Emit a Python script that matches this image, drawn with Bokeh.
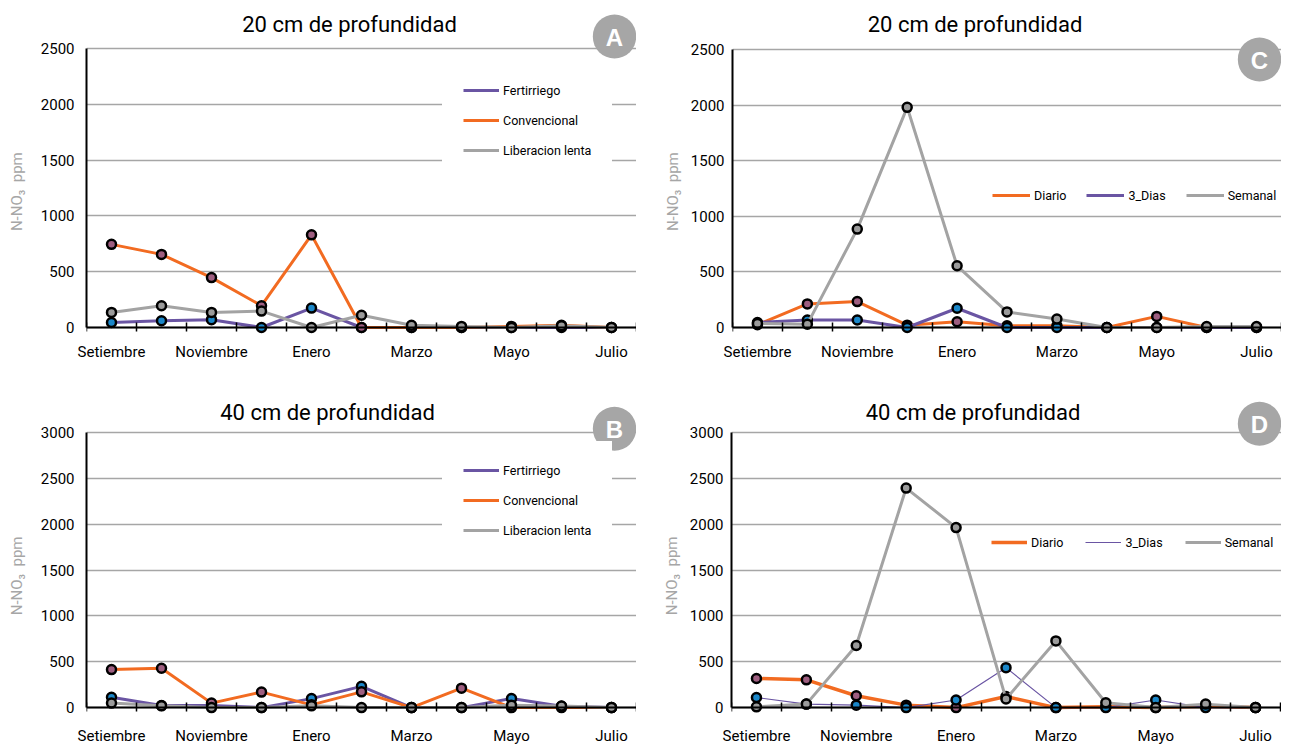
from bokeh.plotting import figure
from bokeh.models import (Range1d, FixedTicker, Label, Legend, LegendItem,
                          ColumnDataSource, LinearAxis)
from bokeh.layouts import column, row
from bokeh.embed import file_html
from bokeh.resources import INLINE

# ---------------- data ----------------
months = ["Setiembre", "Octubre", "Noviembre", "Diciembre", "Enero", "Febrero",
          "Marzo", "Abril", "Mayo", "Junio", "Julio"]
shown_months = ["Setiembre", "Noviembre", "Enero", "Marzo", "Mayo", "Julio"]

yticks_20 = [0, 500, 1000, 1500, 2000, 2500]
yticks_40 = [0, 500, 1000, 1500, 2000, 2500, 3000]

# A: 20 cm, fuente de fertilizante
a_fertirriego = [45, 60, 70, 0, 174, 0, 0, 0, 0, 0, 0]
a_convencional = [745, 655, 447, 195, 830, 0, 0, 0, 10, 20, 0]
a_liberacion = [135, 195, 135, 147, 0, 110, 20, 10, 0, 15, 0]

# B: 40 cm, fuente de fertilizante
b_fertirriego = [113, 23, 23, 0, 98, 232, 0, 0, 99, 15, 0]
b_convencional = [415, 430, 49, 169, 30, 172, 0, 212, 0, 0, 0]
b_liberacion = [49, 19, 0, 0, 19, 0, 0, 0, 26, 18, 0]

# C: 20 cm, frecuencia
c_diario = [25, 212, 233, 21, 52, 15, 15, 0, 100, 0, 0]
c_3dias = [45, 67, 67, 0, 173, 0, 0, 0, 0, 0, 0]
c_semanal = [36, 30, 885, 1980, 555, 140, 76, 0, 0, 9, 9]

# D: 40 cm, frecuencia
d_diario = [318, 303, 129, 27, 0, 121, 0, 8, 0, 15, 0]
d_3dias = [110, 38, 27, 0, 83, 436, 0, 0, 83, 0, 0]
d_semanal = [8, 38, 678, 2396, 1965, 95, 728, 53, 0, 38, 0]

# ---------------- style ----------------
ORANGE = "#f26b21"
PURPLE = "#6a55a3"
GREY = "#a3a3a3"
MAUVE = "#9e5e80"
BLUE = "#1b87c9"
GREYFILL = "#9b9b9b"
GRID = "#a6a6a6"
FONT = "Roboto"
NB = "\u00a0"


def panel(title, letter, yticks, series, g):
    ymax = yticks[-1]
    n = len(months)
    # layout geometry (pixels) -> ranges
    y0 = -ymax * g["under_px"] / g["plot_px"]
    y1 = ymax * (1 + g["top_px"] / g["plot_px"])
    unit = g["xplot_px"] / n
    x1 = n - 0.5 + g["xright_px"] / unit
    p = figure(width=g["w"], height=g["h"],
               x_range=Range1d(-0.5, x1), y_range=Range1d(y0, y1),
               output_backend="svg", toolbar_location=None,
               min_border_left=g["l"], min_border_right=0,
               min_border_top=0, min_border_bottom=g["b"])
    p.outline_line_color = None
    p.background_fill_color = "white"
    p.border_fill_color = "white"
    p.xgrid.visible = False

    # y axis
    p.yaxis.ticker = FixedTicker(ticks=yticks)
    p.yaxis.bounds = (0, ymax)
    p.yaxis.axis_line_color = "black"
    p.yaxis.axis_line_width = 2
    p.yaxis.major_tick_in = 0
    p.yaxis.major_tick_out = 0
    p.yaxis.minor_tick_line_color = None
    p.yaxis.major_label_text_font = FONT
    p.yaxis.major_label_text_font_size = "15px"
    p.yaxis.major_label_text_color = "black"
    p.yaxis.major_label_standoff = g["ystand"]
    p.yaxis.axis_label = "N-NO\u2083" + NB + NB + "ppm" + NB * g["nbsp"]
    p.yaxis.axis_label_text_font = FONT
    p.yaxis.axis_label_text_font_size = "15px"
    p.yaxis.axis_label_text_font_style = "normal"
    p.yaxis.axis_label_text_color = GRID
    p.yaxis.axis_label_standoff = g["lstand"]

    p.ygrid.ticker = FixedTicker(ticks=yticks)
    p.ygrid.bounds = (0, ymax)
    p.ygrid.grid_line_color = GRID
    p.ygrid.grid_line_width = 1.5

    idx = list(range(n))
    # x axis labels (below the frame)
    p.xaxis.ticker = FixedTicker(ticks=idx[::2])
    p.xaxis.major_label_overrides = {i: m for i, m in zip(idx[::2], shown_months)}
    p.xaxis.axis_line_color = None
    p.xaxis.major_tick_line_color = None
    p.xaxis.minor_tick_line_color = None
    p.xaxis.major_label_text_font = FONT
    p.xaxis.major_label_text_font_size = "15px"
    p.xaxis.major_label_text_color = "black"
    p.xaxis.major_label_standoff = g["xstand"]

    # x axis line with category ticks, drawn at y = 0
    ax0 = LinearAxis(fixed_location=0, bounds=(-0.5, n - 0.5),
                     ticker=FixedTicker(ticks=[], minor_ticks=[i - 0.5 for i in range(n + 1)]),
                     axis_line_color="black", axis_line_width=2,
                     major_tick_line_color=None, major_label_text_font_size="0px",
                     major_label_standoff=0,
                     minor_tick_line_color="black", minor_tick_line_width=1.5,
                     minor_tick_in=5, minor_tick_out=4)
    p.add_layout(ax0, "below")

    items = []
    for name, vals, lc, lw, fc in series:
        src = ColumnDataSource(dict(x=idx, y=vals))
        lr = p.line("x", "y", source=src, line_color=lc, line_width=lw, line_join="round")
        p.scatter("x", "y", source=src, size=9, fill_color=fc,
                  line_color="black", line_width=2.5)
        dummy = p.scatter("x", "y", source=ColumnDataSource(dict(x=[], y=[])),
                          size=9, fill_color=fc, line_color="black", line_width=3.5)
        items.append(LegendItem(label=name, renderers=[lr, dummy]))

    leg = Legend(items=items, location=g["loc"], orientation=g["orient"],
                 padding=g["pad"], spacing=g["spacing"], margin=0,
                 glyph_width=g["gw"], glyph_height=16, label_height=16,
                 label_standoff=4, label_text_font=FONT, label_text_font_size="12.5px",
                 label_text_color="black",
                 background_fill_color="white", background_fill_alpha=g["bga"],
                 border_line_color=g["border"], border_line_width=1)
    p.add_layout(leg)

    p.add_layout(Label(x=(n - 1) / 2, y=ymax, x_offset=g["tx"], y_offset=g["ty"],
                       text=title, text_align="center", text_baseline="middle",
                       text_font=FONT, text_font_size="22px", text_color="black"))
    p.add_layout(Label(x=n - 0.5, y=ymax, x_offset=g["bx"], y_offset=g["by"],
                       text=letter, text_align="center", text_baseline="middle",
                       text_font="Liberation Sans", text_font_style="bold",
                       text_font_size="24px", text_color="white",
                       background_fill_color="#a6a6a6", border_radius=22,
                       padding=dict(left=13, right=13, top=9, bottom=8)))
    return p


# rows: top 0..381, bottom 381..747 ; columns: left 0..636, right 636..1281
gA = dict(w=636, h=381, l=86, top_px=48, plot_px=279, under_px=7, b=47, xstand=2,
          xplot_px=550, xright_px=0, ystand=12, lstand=12, nbsp=13,
          loc=(356, 155), orient="vertical", pad=20, spacing=14, gw=36, bga=1,
          border="white", tx=-12, ty=24, bx=-22, by=12)
gB = dict(w=636, h=366, l=86, top_px=52, plot_px=279, under_px=7, b=28, xstand=6,
          xplot_px=550, xright_px=0, ystand=12, lstand=12, nbsp=15,
          loc=(356, 155), orient="vertical", pad=20, spacing=14, gw=36, bga=1,
          border="white", tx=-34, ty=20, bx=-22, by=4)
gC = dict(w=645, h=381, l=96, top_px=49, plot_px=278, under_px=7, b=47, xstand=2,
          xplot_px=549, xright_px=0, ystand=8, lstand=6, nbsp=13,
          loc=(260, 131), orient="horizontal", pad=0, spacing=20, gw=38, bga=0,
          border=None, tx=-32, ty=25, bx=-22, by=-10)
gD = dict(w=645, h=366, l=95, top_px=52, plot_px=279, under_px=7, b=28, xstand=6,
          xplot_px=549, xright_px=1, ystand=8, lstand=6, nbsp=15,
          loc=(260, 164), orient="horizontal", pad=0, spacing=22, gw=36, bga=0,
          border=None, tx=-33, ty=20, bx=-21, by=9)

pA = panel("20 cm de profundidad", "A", yticks_20, [
    ("Fertirriego", a_fertirriego, PURPLE, 3, BLUE),
    ("Convencional", a_convencional, ORANGE, 3, MAUVE),
    ("Liberacion lenta", a_liberacion, GREY, 3, GREYFILL)], gA)
pB = panel("40 cm de profundidad", "B", yticks_40, [
    ("Fertirriego", b_fertirriego, PURPLE, 3, BLUE),
    ("Convencional", b_convencional, ORANGE, 3, MAUVE),
    ("Liberacion lenta", b_liberacion, GREY, 3, GREYFILL)], gB)
pC = panel("20 cm de profundidad", "C", yticks_20, [
    ("Diario", c_diario, ORANGE, 3, MAUVE),
    ("3_Dias", c_3dias, PURPLE, 3, BLUE),
    ("Semanal", c_semanal, GREY, 3, GREYFILL)], gC)
pD = panel("40 cm de profundidad", "D", yticks_40, [
    ("Diario", d_diario, ORANGE, 3.5, MAUVE),
    ("3_Dias", d_3dias, PURPLE, 1.2, BLUE),
    ("Semanal", d_semanal, GREY, 3, GREYFILL)], gD)

layout = column(row(pA, pC), row(pB, pD))
open("out.html", "w").write(file_html(layout, INLINE))
